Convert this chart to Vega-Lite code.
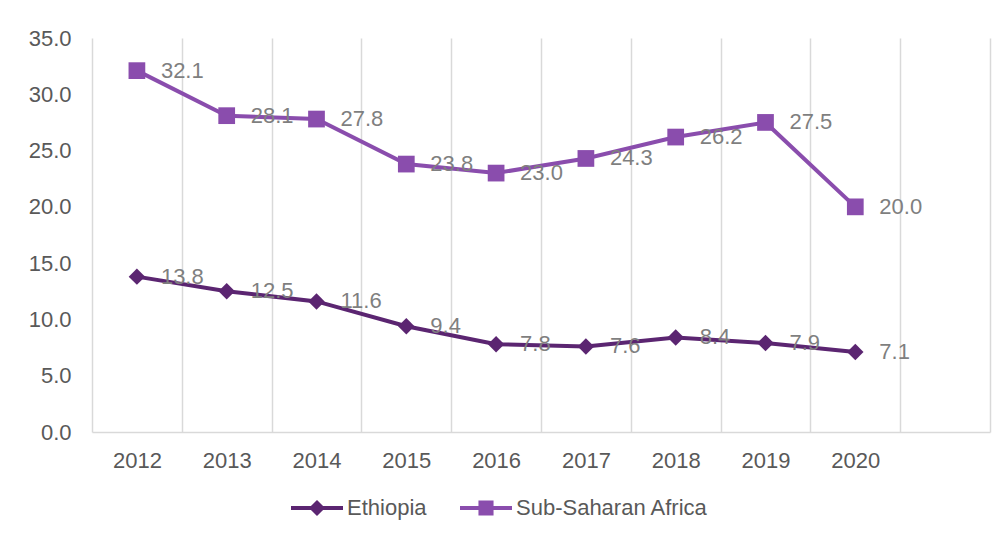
{
  "$schema": "https://vega.github.io/schema/vega-lite/v6.json",
  "width": 898,
  "height": 394,
  "autosize": "none",
  "padding": {"left": 92, "top": 38, "right": 17, "bottom": 108},
  "background": "white",
  "config": {
    "view": {"stroke": null},
    "font": "Liberation Sans"
  },
  "data": {
    "values": [
      {"year": "2012", "series": "Ethiopia", "value": 13.8},
      {"year": "2013", "series": "Ethiopia", "value": 12.5},
      {"year": "2014", "series": "Ethiopia", "value": 11.6},
      {"year": "2015", "series": "Ethiopia", "value": 9.4},
      {"year": "2016", "series": "Ethiopia", "value": 7.8},
      {"year": "2017", "series": "Ethiopia", "value": 7.6},
      {"year": "2018", "series": "Ethiopia", "value": 8.4},
      {"year": "2019", "series": "Ethiopia", "value": 7.9},
      {"year": "2020", "series": "Ethiopia", "value": 7.1},
      {"year": "2012", "series": "Sub-Saharan Africa", "value": 32.1},
      {"year": "2013", "series": "Sub-Saharan Africa", "value": 28.1},
      {"year": "2014", "series": "Sub-Saharan Africa", "value": 27.8},
      {"year": "2015", "series": "Sub-Saharan Africa", "value": 23.8},
      {"year": "2016", "series": "Sub-Saharan Africa", "value": 23.0},
      {"year": "2017", "series": "Sub-Saharan Africa", "value": 24.3},
      {"year": "2018", "series": "Sub-Saharan Africa", "value": 26.2},
      {"year": "2019", "series": "Sub-Saharan Africa", "value": 27.5},
      {"year": "2020", "series": "Sub-Saharan Africa", "value": 20.0}
    ]
  },
  "encoding": {
    "x": {
      "field": "year",
      "type": "ordinal",
      "scale": {
        "type": "band",
        "domain": ["2012", "2013", "2014", "2015", "2016", "2017", "2018", "2019", "2020", "2021"],
        "paddingInner": 0,
        "paddingOuter": 0
      },
      "axis": {
        "title": null,
        "tickBand": "extent",
        "grid": true,
        "gridColor": "#D9D9D9",
        "gridWidth": 1.5,
        "domain": true,
        "domainColor": "#D9D9D9",
        "domainWidth": 1.5,
        "ticks": false,
        "labelAngle": 0,
        "labelExpr": "datum.label == '2021' ? '' : datum.label",
        "labelFontSize": 22,
        "labelColor": "#595959",
        "labelPadding": 18
      }
    },
    "y": {
      "field": "value",
      "type": "quantitative",
      "scale": {"domain": [0, 35], "nice": false},
      "axis": {
        "title": null,
        "values": [0, 5, 10, 15, 20, 25, 30, 35],
        "format": ".1f",
        "grid": false,
        "domain": false,
        "ticks": false,
        "labelFontSize": 22,
        "labelColor": "#595959",
        "labelPadding": 21
      }
    },
    "color": {
      "field": "series",
      "type": "nominal",
      "scale": {
        "domain": ["Ethiopia", "Sub-Saharan Africa"],
        "range": ["#5B2571", "#8A4DAD"]
      },
      "legend": {
        "title": null,
        "orient": "none",
        "legendX": 199,
        "legendY": 444,
        "direction": "horizontal",
        "padding": 0,
        "symbolSize": 2704,
        "labelFontSize": 22,
        "labelColor": "#595959",
        "labelOffset": 4,
        "labelLimit": 400,
        "columnPadding": 33,
        "encode": {
          "symbols": {
            "update": {
              "shape": {"signal": "datum.value === 'Ethiopia' ? 'M-1,-0.077L1,-0.077L1,0.077L-1,0.077Z M0,-0.31L0.31,0L0,0.31L-0.31,0Z' : 'M-1,-0.077L1,-0.077L1,0.077L-1,0.077Z M-0.29,-0.29L0.29,-0.29L0.29,0.29L-0.29,0.29Z'"},
              "fill": {"signal": "scale('color', datum.value)"},
              "fillOpacity": {"value": 1},
              "strokeWidth": {"value": 0},
              "opacity": {"value": 1}
            }
          }
        }
      }
    }
  },
  "layer": [
    {
      "mark": {"type": "line", "strokeWidth": 4}
    },
    {
      "transform": [{"filter": "datum.series === 'Ethiopia'"}],
      "mark": {"type": "point", "filled": true, "opacity": 1, "shape": "diamond", "size": 270}
    },
    {
      "transform": [{"filter": "datum.series === 'Sub-Saharan Africa'"}],
      "mark": {"type": "point", "filled": true, "opacity": 1, "shape": "square", "size": 280}
    },
    {
      "mark": {"type": "text", "align": "left", "baseline": "middle", "dx": 24, "fontSize": 22},
      "encoding": {
        "text": {"field": "value", "type": "quantitative", "format": ".1f"},
        "color": {"value": "#7F7F7F"}
      }
    }
  ]
}
